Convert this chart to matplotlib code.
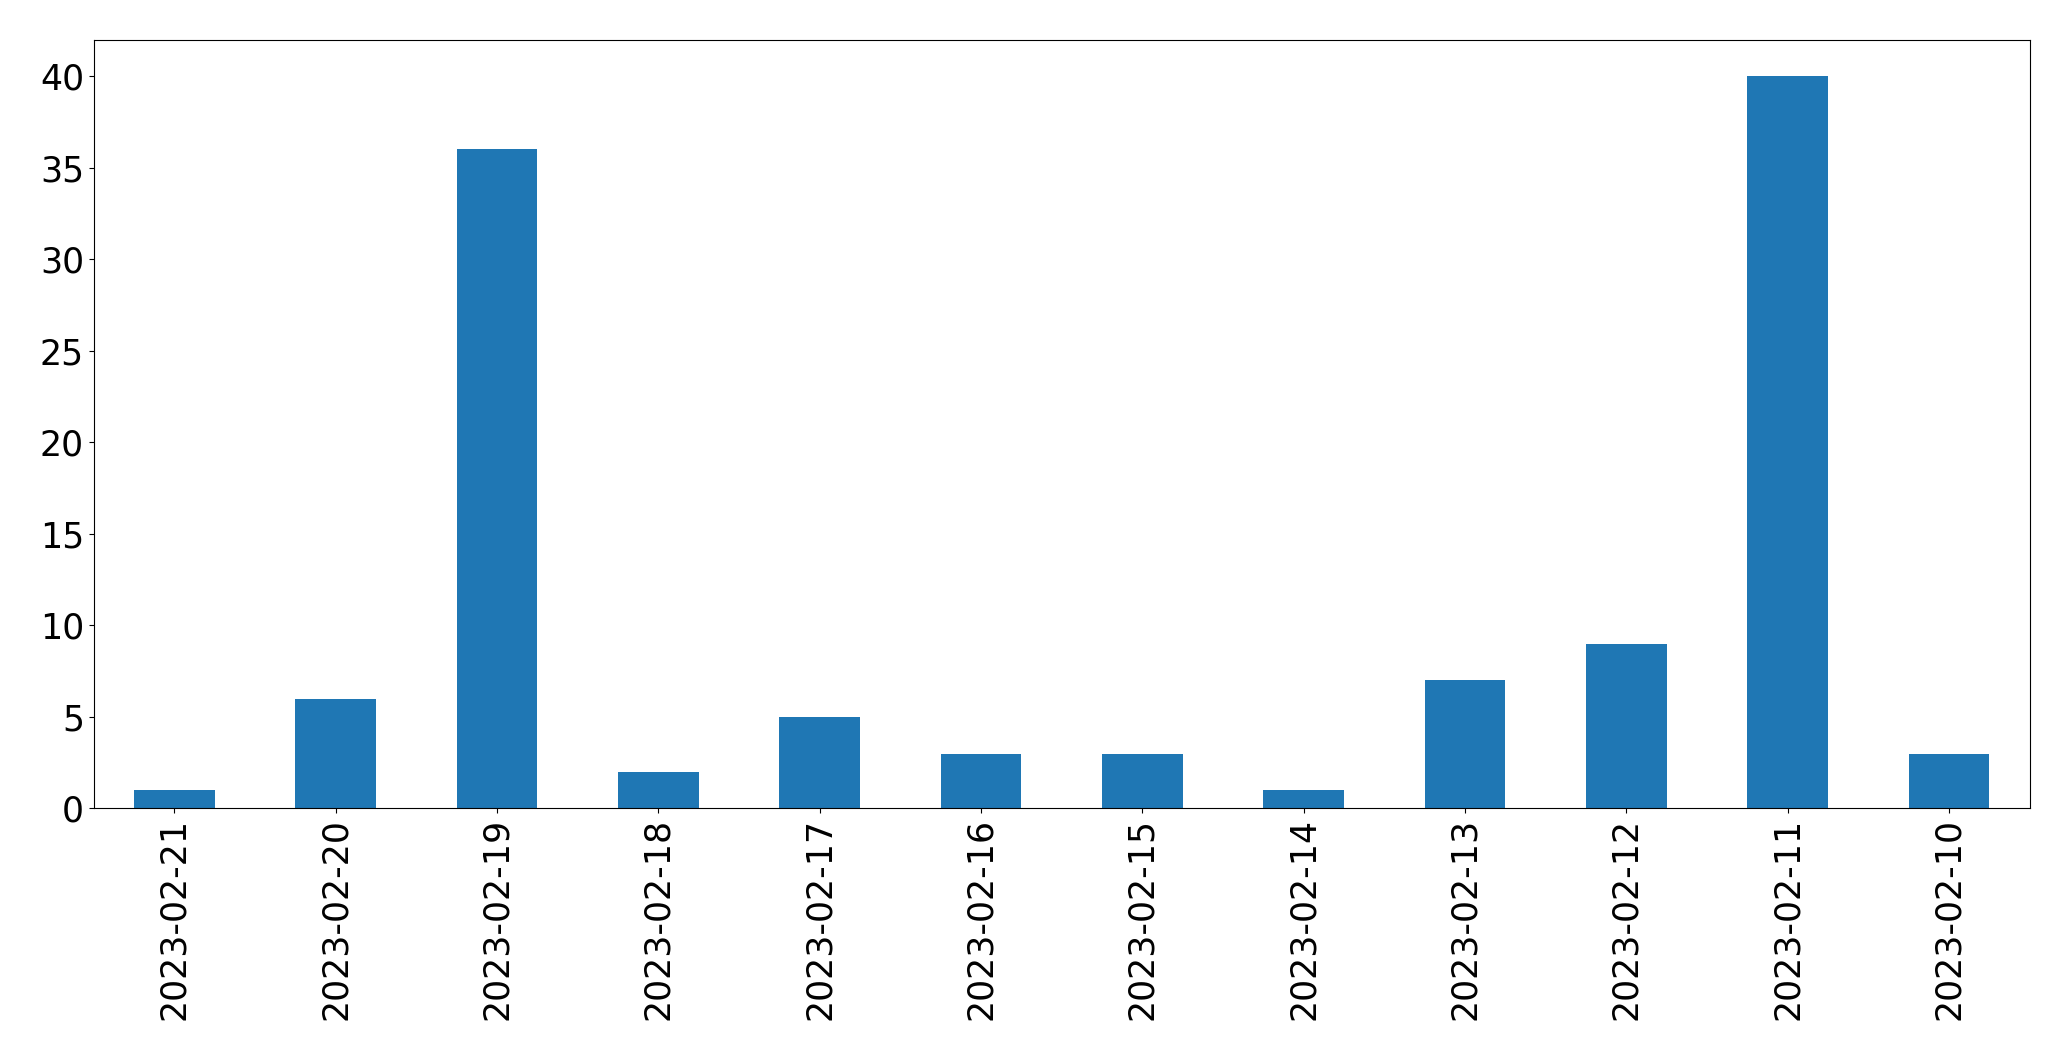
import matplotlib
matplotlib.use("Agg")
import matplotlib.pyplot as plt

dates = ["2023-02-21", "2023-02-20", "2023-02-19", "2023-02-18", "2023-02-17", "2023-02-16",
         "2023-02-15", "2023-02-14", "2023-02-13", "2023-02-12", "2023-02-11", "2023-02-10"]
counts = [1, 6, 36, 2, 5, 3, 3, 1, 7, 9, 40, 3]

fig = plt.figure(figsize=(20.71, 10.61), dpi=100)
ax = fig.add_axes([0.0453, 0.238, 0.9347, 0.7247])
x = range(len(dates))
ax.bar(x, counts, width=0.5, color="#1f77b4")
ax.set_xlim(-0.5, len(dates) - 0.5)
ax.set_xticks(list(x))
ax.set_xticklabels(dates, rotation=90)
ax.tick_params(labelsize=25)
ax.set_yticks(range(0, 45, 5))

fig.savefig("out.png", dpi=100)
